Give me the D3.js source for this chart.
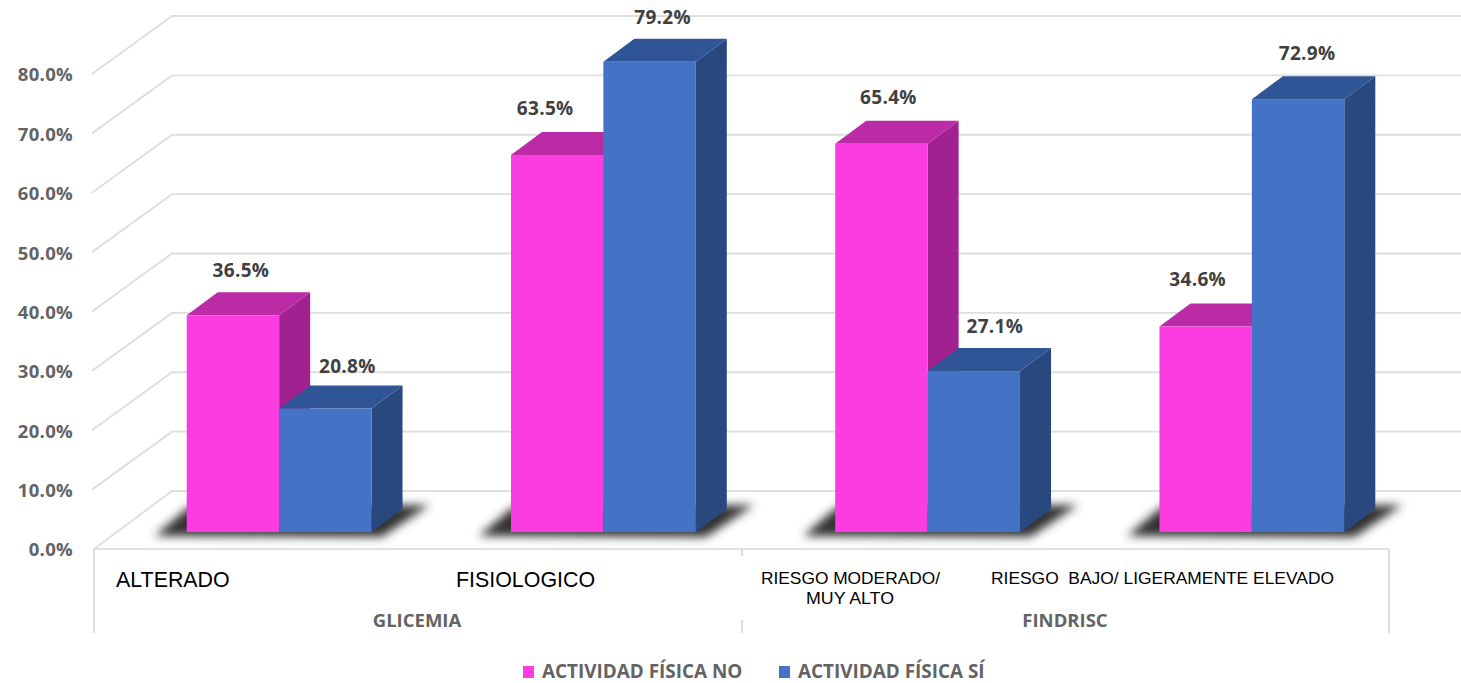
<!DOCTYPE html>
<html lang="es">
<head>
<meta charset="utf-8">
<title>Actividad física por glicemia y FINDRISC</title>
<script src="https://cdn.jsdelivr.net/npm/d3@7/dist/d3.min.js"></script>
<style>
  html, body { margin: 0; padding: 0; background: #fff; }
  svg { display: block; }
</style>
</head>
<body>
<svg id="chart" width="1461" height="683"></svg>
<script>
// Chart values
const categories = ["ALTERADO", "FISIOLOGICO", "RIESGO MODERADO/", "RIESGO  BAJO/ LIGERAMENTE ELEVADO"];
const groups = ["GLICEMIA", "FINDRISC"];
const seriesNames = ["ACTIVIDAD FÍSICA NO", "ACTIVIDAD FÍSICA SÍ"];
const actividadNo = [36.5, 63.5, 65.4, 34.6];
const actividadSi = [20.8, 79.2, 27.1, 72.9];
const yTicks = [0, 10, 20, 30, 40, 50, 60, 70, 80];

// Pseudo-3D layout
const depth = { dx: 31, dy: -23 };
const wall = { left: 94, back: 172, right: 1461, frontDrop: 17, backRise: 41 };
const fills = [
  { front: "#fb3ce0", top: "#bb2ba6", side: "#a12190" },
  { front: "#4472c4", top: "#2f5597", side: "#2a4880" }
];
// Value labels sit where they were dragged by hand in the chart: [dx, dy] from the bar's top centre
const labelNudge = [
  [[8, -45], [22, -42]],
  [[-12, -47], [13, -45]],
  [[7, -47], [21, -45]],
  [[-8, -47], [9, -46]]
];

const svg = d3.select("#chart");
const y = d3.scaleLinear().domain([0, 80]).range([532, 57]);
const x = d3.scaleBand().domain(categories).range([117, 1414]).paddingInner(0.43).paddingOuter(0.215);
const xSeries = d3.scaleBand().domain(seriesNames).range([0, x.bandwidth()]);

const defs = svg.append("defs");
defs.append("filter").attr("id", "soft")
  .attr("x", "-20%").attr("y", "-60%").attr("width", "140%").attr("height", "220%")
  .append("feGaussianBlur").attr("stdDeviation", 5);

// Back wall gridlines with their return along the left wall
const grid = svg.append("g").attr("fill", "none").attr("stroke", "#dedede").attr("stroke-width", 1.9);
grid.selectAll("path").data(yTicks).join("path")
  .attr("d", v => {
    const path = d3.path();
    path.moveTo(wall.left - (v === 0 ? 0 : 2), y(v) + wall.frontDrop);
    path.lineTo(wall.back, y(v) - wall.backRise);
    path.lineTo(wall.right, y(v) - wall.backRise);
    return path.toString();
  });

// Value axis, drawn along the front edge of the left wall
const yAxis = d3.axisLeft(y).tickValues(yTicks).tickSize(0).tickPadding(0)
  .tickFormat(v => d3.format(".1f")(v) + "%");
svg.append("g")
  .attr("transform", `translate(73,${wall.frontDrop + 1})`)
  .call(yAxis)
  .call(g => g.select(".domain").remove())
  .selectAll("text")
  .attr("font-family", "'Open Sans', sans-serif")
  .attr("font-weight", 700)
  .attr("font-size", 18.5)
  .attr("letter-spacing", 0.3)
  .attr("fill", "#636363");

// Category frame below the floor
const axisY = y(0) + wall.frontDrop;
const frameRight = 1389;
const frameMid = 742;
const frame = svg.append("g").attr("fill", "none").attr("stroke", "#d6d6d6").attr("stroke-width", 1.7);
frame.append("line").attr("x1", wall.left).attr("x2", frameRight).attr("y1", axisY).attr("y2", axisY);
frame.append("line").attr("x1", wall.left).attr("x2", wall.left).attr("y1", axisY).attr("y2", 633);
frame.append("line").attr("x1", frameRight).attr("x2", frameRight).attr("y1", axisY).attr("y2", 633);
frame.append("line").attr("x1", frameMid).attr("x2", frameMid).attr("y1", axisY).attr("y2", 556);
frame.append("line").attr("x1", frameMid).attr("x2", frameMid).attr("y1", 620).attr("y2", 633);

// Soft floor shadow under each pair of bars
const bars = svg.append("g");
bars.selectAll("polygon.shadow").data(categories).join("polygon")
  .attr("class", "shadow")
  .attr("fill", "#333")
  .attr("filter", "url(#soft)")
  .attr("points", c => {
    const x0 = x(c), x1 = x(c) + x.bandwidth(), b = y(0);
    return [[x0 - 32, b + 4], [x0 + 2, b - 25], [x1 + 58, b - 27], [x1 + 10, b + 5]].join(" ");
  });

// Extruded bars: the second series is painted over the first series' side face
const series = [actividadNo, actividadSi];
series.forEach((values, s) => {
  const g = bars.append("g").attr("class", "series");
  const w = xSeries.bandwidth();
  const rows = categories.map((c, i) => ({
    left: x(c) + xSeries(seriesNames[s]),
    top: y(values[i])
  }));
  g.selectAll("polygon.side").data(rows).join("polygon").attr("class", "side")
    .attr("fill", fills[s].side)
    .attr("points", d => [
      [d.left + w, d.top], [d.left + w + depth.dx, d.top + depth.dy],
      [d.left + w + depth.dx, y(0) + depth.dy], [d.left + w, y(0)]
    ].join(" "));
  g.selectAll("polygon.top").data(rows).join("polygon").attr("class", "top")
    .attr("fill", fills[s].top)
    .attr("points", d => [
      [d.left, d.top], [d.left + depth.dx, d.top + depth.dy],
      [d.left + w + depth.dx, d.top + depth.dy], [d.left + w, d.top]
    ].join(" "));
  g.selectAll("rect").data(rows).join("rect")
    .attr("fill", fills[s].front)
    .attr("x", d => d.left).attr("y", d => d.top)
    .attr("width", w).attr("height", d => y(0) - d.top);
});

// Value labels
series.forEach((values, s) => {
  svg.append("g").selectAll("text").data(values).join("text")
    .attr("x", (v, i) => x(categories[i]) + xSeries(seriesNames[s]) + xSeries.bandwidth() / 2 + labelNudge[i][s][0])
    .attr("y", (v, i) => y(v) + labelNudge[i][s][1])
    .attr("dy", "0.36em")
    .attr("text-anchor", "middle")
    .attr("font-family", "'Open Sans', sans-serif")
    .attr("font-weight", 700)
    .attr("font-size", 19)
    .attr("letter-spacing", 0.3)
    .attr("fill", "#404040")
    .text(v => d3.format(".1f")(v) + "%");
});

// Category labels
const catText = svg.append("g").attr("font-family", "'Liberation Sans', Arial, sans-serif").attr("fill", "#000");
catText.append("text").attr("x", 116).attr("y", 587).attr("font-size", 21.4).text(categories[0]);
catText.append("text").attr("x", 456).attr("y", 587).attr("font-size", 21.4).text(categories[1]);
catText.append("text").attr("x", 761).attr("y", 584).attr("font-size", 16.5)
  .attr("textLength", 179).attr("lengthAdjust", "spacingAndGlyphs").text(categories[2]);
catText.append("text").attr("x", 806).attr("y", 604).attr("font-size", 16.5)
  .attr("textLength", 88).attr("lengthAdjust", "spacingAndGlyphs").text("MUY ALTO");
catText.append("text").attr("x", 991).attr("y", 584).attr("font-size", 16.5)
  .attr("textLength", 343).attr("lengthAdjust", "spacingAndGlyphs").style("white-space", "pre").text(categories[3]);

// Group labels
svg.append("g").selectAll("text").data(groups).join("text")
  .attr("x", (d, i) => [417, 1065][i])
  .attr("y", 627)
  .attr("text-anchor", "middle")
  .attr("font-family", "'Open Sans', sans-serif")
  .attr("font-weight", 700)
  .attr("font-size", 18.5)
  .attr("fill", "#636363")
  .text(d => d);

// Legend
const legend = svg.append("g");
const legendItems = legend.selectAll("g").data(seriesNames).join("g")
  .attr("transform", (d, i) => `translate(${[523, 779][i]},666)`);
legendItems.append("rect").attr("width", 11).attr("height", 12).attr("fill", (d, i) => fills[i].front);
legendItems.append("text")
  .attr("x", 19).attr("y", 12)
  .attr("font-family", "'Open Sans', sans-serif")
  .attr("font-weight", 700)
  .attr("font-size", 18.9)
  .attr("fill", "#636363")
  .text(d => d);
</script>
</body>
</html>
